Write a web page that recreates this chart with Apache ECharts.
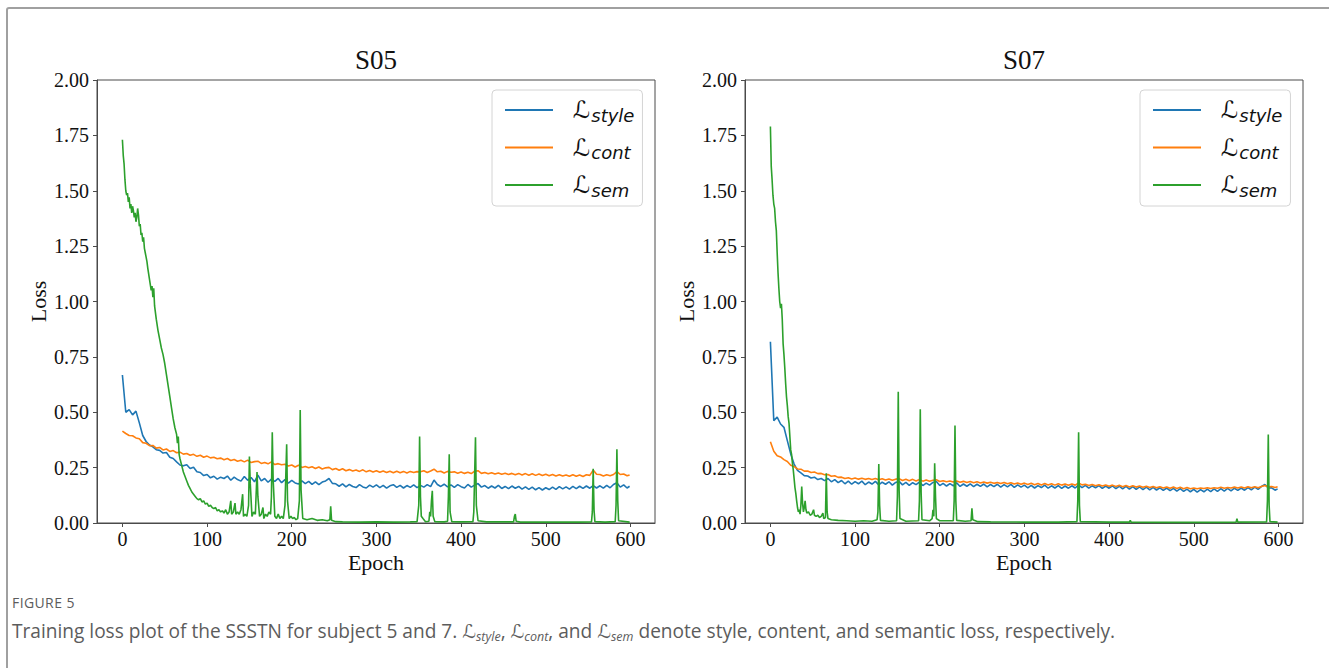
<!DOCTYPE html>
<html>
<head>
<meta charset="utf-8">
<title>Training loss SSSTN</title>
<script src="https://cdn.jsdelivr.net/npm/echarts@6/dist/echarts.min.js"></script>
<style>
  html, body { margin: 0; padding: 0; background: #fff; }
  body { width: 1329px; height: 668px; position: relative; overflow: hidden; }
  #frame {
    position: absolute; left: 6px; top: 7px; width: 1400px; height: 700px;
    border: 2px solid #a0a0a0; border-radius: 3px; box-sizing: border-box;
  }
  #chart { position: absolute; left: 0; top: 0; width: 1329px; height: 585px; }
  #figno {
    position: absolute; left: 12px; top: 593px;
    font-family: "Open Sans", "Noto Sans", sans-serif; font-size: 14px;
    letter-spacing: 0.4px; color: #5c5c5c;
  }
  #caption {
    position: absolute; left: 12px; top: 618px; white-space: nowrap;
    font-family: "Open Sans", "Noto Sans", sans-serif; font-size: 19.1px;
    color: #5c5c5c;
  }
  #caption .m { font-family: "DejaVu Sans", sans-serif; font-style: italic; }
  #caption sub { font-style: italic; font-size: 12.5px; vertical-align: -3px; line-height: 0; }
</style>
</head>
<body>
<div id="frame"></div>
<div id="chart"></div>
<div id="figno">FIGURE 5</div>
<div id="caption">Training loss plot of the SSSTN for subject 5 and 7. <span class="m">ℒ</span><sub>style</sub>, <span class="m">ℒ</span><sub>cont</sub>, and <span class="m">ℒ</span><sub>sem</sub> denote style, content, and semantic loss, respectively.</div>
<script>
// panel titles and tick labels
const panelTitles = ['S05', 'S07'];
const epochTicks = [0, 100, 200, 300, 400, 500, 600];
const seriesNames = ['style', 'cont', 'sem'];

// style / content loss, one value every 4 epochs (last one is epoch 599)
const s05Style = [
  0.668,0.500,0.512,0.488,0.505,0.452,0.395,0.368,0.352,0.344,0.331,0.328,0.316,0.318,0.297,0.291,
  0.276,0.262,0.258,0.263,0.246,0.252,0.231,0.228,0.214,0.219,0.204,0.211,0.198,0.207,0.201,0.212,
  0.193,0.207,0.196,0.189,0.210,0.193,0.205,0.186,0.216,0.190,0.201,0.184,0.198,0.188,0.201,0.182,
  0.196,0.180,0.192,0.181,0.176,0.190,0.178,0.188,0.174,0.186,0.173,0.185,0.190,0.201,0.179,0.177,
  0.166,0.177,0.163,0.174,0.165,0.160,0.173,0.163,0.158,0.171,0.162,0.172,0.160,0.170,0.157,0.168,
  0.173,0.161,0.170,0.158,0.169,0.161,0.172,0.160,0.170,0.162,0.173,0.164,0.194,0.174,0.165,0.175,
  0.163,0.172,0.161,0.173,0.164,0.158,0.174,0.162,0.171,0.178,0.162,0.169,0.157,0.167,0.158,0.170,
  0.156,0.165,0.155,0.167,0.157,0.165,0.153,0.163,0.152,0.162,0.150,0.160,0.149,0.159,0.151,0.162,
  0.152,0.164,0.154,0.163,0.153,0.165,0.155,0.166,0.156,0.167,0.157,0.169,0.158,0.168,0.157,0.170,
  0.159,0.174,0.182,0.162,0.172,0.158,0.166
];
const s05Cont = [
  0.415,0.404,0.395,0.394,0.384,0.380,0.363,0.360,0.349,0.350,0.338,0.341,0.330,0.334,0.323,0.327,
  0.317,0.320,0.311,0.314,0.306,0.310,0.301,0.306,0.297,0.302,0.294,0.297,0.290,0.293,0.286,0.291,
  0.282,0.287,0.279,0.283,0.276,0.284,0.273,0.277,0.279,0.269,0.273,0.267,0.276,0.264,0.268,0.263,
  0.265,0.257,0.262,0.253,0.261,0.251,0.255,0.249,0.254,0.246,0.253,0.244,0.249,0.251,0.241,0.246,
  0.238,0.245,0.236,0.241,0.235,0.239,0.233,0.240,0.231,0.237,0.230,0.236,0.229,0.235,0.228,0.234,
  0.227,0.234,0.227,0.233,0.226,0.233,0.228,0.232,0.231,0.236,0.228,0.235,0.243,0.231,0.234,0.226,
  0.233,0.229,0.231,0.225,0.230,0.224,0.229,0.223,0.234,0.236,0.224,0.228,0.222,0.227,0.221,0.226,
  0.220,0.225,0.219,0.224,0.218,0.224,0.217,0.223,0.216,0.222,0.215,0.221,0.214,0.220,0.213,0.219,
  0.212,0.218,0.212,0.217,0.211,0.218,0.211,0.217,0.210,0.218,0.215,0.239,0.220,0.219,0.212,0.218,
  0.213,0.219,0.232,0.219,0.221,0.213,0.217
];
const s07Style = [
  0.818,0.462,0.478,0.447,0.432,0.372,0.312,0.266,0.238,0.226,0.214,0.212,0.203,0.207,0.196,0.201,
  0.191,0.201,0.186,0.196,0.182,0.192,0.177,0.189,0.175,0.187,0.177,0.189,0.173,0.185,0.176,0.188,
  0.172,0.184,0.175,0.186,0.171,0.183,0.188,0.172,0.183,0.170,0.182,0.173,0.185,0.169,0.180,0.171,
  0.183,0.187,0.169,0.179,0.167,0.178,0.168,0.181,0.165,0.176,0.166,0.177,0.164,0.175,0.165,0.176,
  0.163,0.174,0.164,0.175,0.162,0.173,0.163,0.174,0.161,0.172,0.162,0.171,0.159,0.170,0.158,0.169,
  0.160,0.171,0.157,0.168,0.158,0.169,0.156,0.167,0.157,0.168,0.158,0.172,0.160,0.170,0.157,0.168,
  0.159,0.169,0.156,0.167,0.157,0.168,0.155,0.166,0.154,0.165,0.153,0.164,0.152,0.163,0.151,0.162,
  0.150,0.161,0.149,0.159,0.147,0.158,0.146,0.156,0.144,0.155,0.143,0.153,0.141,0.152,0.139,0.151,
  0.141,0.153,0.142,0.154,0.143,0.155,0.144,0.156,0.145,0.157,0.147,0.158,0.148,0.160,0.150,0.162,
  0.152,0.165,0.174,0.158,0.159,0.148,0.154
];
const s07Cont = [
  0.367,0.324,0.304,0.298,0.286,0.278,0.261,0.255,0.244,0.243,0.234,0.235,0.228,0.230,0.223,0.224,
  0.218,0.219,0.211,0.213,0.206,0.207,0.201,0.204,0.199,0.203,0.198,0.202,0.197,0.201,0.196,0.201,
  0.195,0.200,0.194,0.199,0.193,0.198,0.200,0.192,0.197,0.191,0.197,0.190,0.196,0.189,0.194,0.188,
  0.193,0.195,0.187,0.191,0.186,0.190,0.185,0.190,0.184,0.188,0.183,0.187,0.182,0.186,0.181,0.185,
  0.180,0.184,0.179,0.183,0.178,0.183,0.177,0.182,0.176,0.181,0.175,0.180,0.174,0.179,0.173,0.178,
  0.172,0.178,0.172,0.177,0.171,0.177,0.171,0.176,0.170,0.176,0.171,0.181,0.172,0.175,0.169,0.174,
  0.168,0.173,0.167,0.172,0.166,0.171,0.165,0.170,0.164,0.169,0.163,0.168,0.162,0.167,0.161,0.166,
  0.160,0.165,0.159,0.164,0.158,0.163,0.157,0.162,0.156,0.161,0.155,0.160,0.155,0.158,0.155,0.158,
  0.156,0.159,0.156,0.159,0.157,0.161,0.157,0.160,0.158,0.162,0.158,0.163,0.158,0.164,0.159,0.164,
  0.159,0.165,0.169,0.163,0.165,0.160,0.164
];

// semantic loss as [epoch, loss], denser around the spikes
const s05Sem = [
  [0,1.73],[1,1.66],[2,1.62],[3,1.55],[4,1.50],[5,1.48],[6,1.49],[7,1.45],[8,1.47],[9,1.42],[10,1.44],
  [11,1.40],[12,1.43],[13,1.41],[14,1.38],[15,1.40],[16,1.36],[17,1.38],[18,1.42],[19,1.39],[20,1.34],
  [21,1.35],[22,1.30],[23,1.31],[24,1.27],[25,1.29],[26,1.24],[27,1.22],[28,1.20],[29,1.18],[30,1.15],
  [32,1.10],[34,1.05],[35,1.07],[36,1.02],[37,1.06],[38,0.98],[40,0.92],[42,0.87],[44,0.83],[46,0.79],
  [48,0.76],[50,0.72],[52,0.67],[54,0.62],[56,0.57],[58,0.52],[60,0.47],[62,0.43],[64,0.40],[65,0.36],
  [66,0.39],[67,0.31],[68,0.29],[70,0.26],[72,0.23],[74,0.21],[76,0.19],[78,0.17],[80,0.155],[82,0.14],
  [84,0.13],[86,0.12],[88,0.11],[90,0.105],[92,0.11],[94,0.095],[96,0.10],[98,0.085],[100,0.09],
  [102,0.075],[104,0.08],[106,0.07],[108,0.065],[110,0.07],[112,0.055],[114,0.06],[116,0.05],[118,0.055],
  [120,0.045],[122,0.06],[124,0.04],[126,0.05],[128,0.10],[129,0.04],[131,0.05],[133,0.09],[134,0.04],
  [136,0.05],[138,0.04],[140,0.06],[142,0.13],[143,0.03],[145,0.04],[147,0.03],[149,0.08],[150,0.30],
  [151,0.18],[153,0.03],[155,0.05],[157,0.04],[159,0.23],[160,0.12],[162,0.03],[164,0.04],[166,0.07],
  [167,0.02],[169,0.04],[171,0.03],[173,0.05],[175,0.04],[176,0.12],[177,0.41],[178,0.20],[180,0.03],
  [182,0.02],[184,0.04],[186,0.02],[188,0.03],[190,0.02],[192,0.08],[194,0.355],[195,0.10],[197,0.02],
  [199,0.03],[201,0.02],[203,0.025],[205,0.015],[207,0.02],[209,0.10],[210,0.51],[211,0.15],[213,0.02],
  [218,0.015],[224,0.02],[230,0.012],[236,0.015],[242,0.01],[245,0.015],[246,0.075],[247,0.012],
  [252,0.006],[260,0.005],[280,0.004],[300,0.005],[320,0.004],[340,0.005],[348,0.006],[350,0.08],
  [351,0.39],[352,0.12],[353,0.03],[355,0.02],[358,0.006],[362,0.008],[363,0.05],[364,0.03],[365,0.10],
  [366,0.145],[367,0.03],[369,0.006],[380,0.005],[384,0.008],[385,0.12],[386,0.31],[387,0.05],[389,0.006],
  [400,0.005],[414,0.006],[415,0.05],[417,0.387],[418,0.08],[420,0.01],[430,0.005],[462,0.005],
  [463,0.03],[464,0.04],[465,0.008],[470,0.004],[500,0.004],[540,0.004],[554,0.005],[555,0.05],
  [556,0.245],[557,0.06],[558,0.006],[570,0.004],[582,0.006],[583,0.08],[584,0.333],[585,0.10],
  [586,0.01],[599,0.004]
];
const s07Sem = [
  [0,1.79],[1,1.61],[2,1.55],[3,1.48],[4,1.44],[5,1.42],[6,1.36],[7,1.32],[8,1.22],[9,1.13],[10,1.06],
  [11,1.00],[12,0.97],[13,0.99],[14,0.92],[15,0.81],[16,0.76],[17,0.70],[18,0.63],[19,0.57],[20,0.53],
  [21,0.48],[22,0.45],[23,0.39],[24,0.33],[25,0.31],[26,0.27],[27,0.24],[28,0.20],[29,0.16],[30,0.134],
  [31,0.10],[32,0.07],[33,0.05],[34,0.06],[35,0.04],[36,0.08],[37,0.165],[38,0.09],[39,0.05],[40,0.07],
  [41,0.10],[42,0.06],[43,0.045],[45,0.05],[47,0.035],[49,0.04],[51,0.06],[52,0.035],[54,0.03],
  [56,0.035],[58,0.025],[60,0.03],[62,0.045],[63,0.02],[65,0.025],[66,0.224],[67,0.05],[68,0.02],
  [72,0.015],[80,0.012],[90,0.01],[100,0.008],[110,0.01],[120,0.008],[126,0.015],[127,0.05],[128,0.266],
  [129,0.08],[130,0.012],[140,0.008],[149,0.01],[150,0.12],[151,0.593],[152,0.15],[153,0.02],[160,0.008],
  [175,0.01],[176,0.10],[177,0.513],[178,0.14],[179,0.015],[188,0.01],[191,0.02],[192,0.06],[193,0.03],
  [194,0.27],[195,0.12],[196,0.02],[200,0.01],[216,0.01],[217,0.10],[218,0.44],[219,0.10],[220,0.012],
  [230,0.008],[237,0.01],[238,0.066],[239,0.015],[245,0.006],[260,0.005],[300,0.004],[340,0.004],
  [362,0.006],[363,0.10],[364,0.41],[365,0.08],[366,0.006],[400,0.004],[424,0.004],[425,0.012],
  [426,0.004],[470,0.003],[520,0.003],[550,0.004],[551,0.02],[552,0.004],[586,0.005],[587,0.10],
  [588,0.40],[589,0.08],[590,0.006],[599,0.004]
];

const colors = ['#1f77b4', '#ff7f0e', '#2ca02c'];
const serif = 'Liberation Serif';

function withEpochs(vals) {
  return vals.map((v, i) => [Math.min(i * 4, 599), v]);
}

const panels = [
  { left: 97, data: [withEpochs(s05Style), withEpochs(s05Cont), s05Sem] },
  { left: 745, data: [withEpochs(s07Style), withEpochs(s07Cont), s07Sem] }
];
const gridW = 558, gridTop = 80, gridH = 443;

let chart = echarts.init(document.getElementById('chart'), null, { renderer: 'svg' });

let grids = [], xAxes = [], yAxes = [], series = [], legends = [], graphics = [];
panels.forEach((p, k) => {
  grids.push({ left: p.left, top: gridTop, width: gridW, height: gridH,
    show: true, borderColor: '#4a4a4a', borderWidth: 1, backgroundColor: 'transparent' });
  xAxes.push({
    gridIndex: k, type: 'value', min: -30, max: 629,
    name: 'Epoch', nameLocation: 'middle', nameGap: 28, nameMoveOverlap: false,
    nameTextStyle: { fontFamily: serif, fontSize: 22, lineHeight: 22, color: '#111' },
    axisLine: { show: true, onZero: false, lineStyle: { color: '#4a4a4a', width: 1 } },
    axisTick: { show: true, length: 4, customValues: epochTicks, lineStyle: { color: '#4a4a4a' } },
    axisLabel: { customValues: epochTicks, margin: 6, fontFamily: serif, fontSize: 20, lineHeight: 20, color: '#111' },
    splitLine: { show: false }
  });
  yAxes.push({
    gridIndex: k, type: 'value', min: 0, max: 2, interval: 0.25,
    name: 'Loss', nameLocation: 'middle', nameGap: 48,
    nameTextStyle: { fontFamily: serif, fontSize: 22, color: '#111' },
    axisLine: { show: true, onZero: false, lineStyle: { color: '#4a4a4a', width: 1 } },
    axisTick: { show: true, length: 4, lineStyle: { color: '#4a4a4a' } },
    axisLabel: { margin: 8, fontFamily: serif, fontSize: 20, color: '#111',
      formatter: v => v.toFixed(2) },
    splitLine: { show: false }
  });
  p.data.forEach((d, j) => {
    series.push({
      name: seriesNames[j], type: 'line', xAxisIndex: k, yAxisIndex: k,
      data: d, symbol: 'none', showSymbol: false, animation: false,
      color: colors[j], lineStyle: { width: 1.6, color: colors[j] }, z: 2 + j
    });
  });
  legends.push({
    data: seriesNames, orient: 'vertical', left: p.left + 395, top: 90,
    icon: 'rect', itemWidth: 48, itemHeight: 2, itemGap: 11.5,
    padding: [8, 8, 7, 13],
    borderColor: '#d4d4d4', borderWidth: 1, borderRadius: 4,
    backgroundColor: 'rgba(255,255,255,0.85)',
    selectedMode: false,
    formatter: n => '{L|ℒ}{s|' + n + '}',
    textStyle: {
      rich: {
        L: { fontFamily: 'DejaVu Sans', fontSize: 24, color: '#111', lineHeight: 30, padding: [0, 1, 0, 15] },
        s: { fontFamily: 'DejaVu Sans', fontStyle: 'italic', fontSize: 18, color: '#111', padding: [10, 0, 0, 0] }
      }
    }
  });
  graphics.push({
    type: 'text', x: p.left + gridW / 2, y: 60,
    style: { text: panelTitles[k], textAlign: 'center', textVerticalAlign: 'middle',
      font: '27px "Liberation Serif"', fill: '#111' }
  });
});

chart.setOption({
  animation: false,
  grid: grids,
  xAxis: xAxes,
  yAxis: yAxes,
  legend: legends,
  graphic: graphics,
  series: series
});
</script>
</body>
</html>
